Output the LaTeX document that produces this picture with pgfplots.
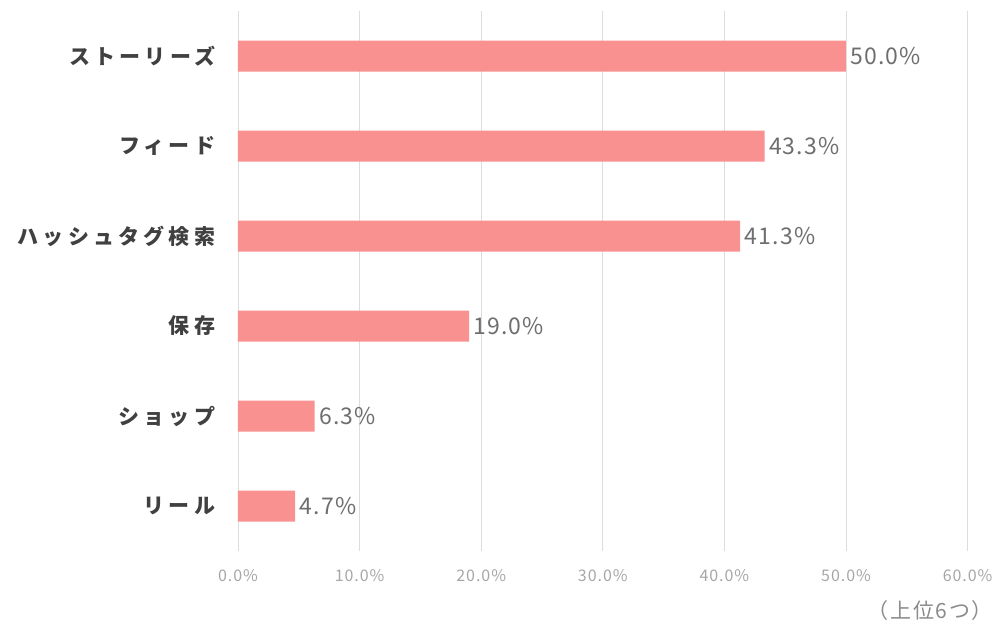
\documentclass[border=0pt]{standalone}
\usepackage{fontspec}
\setmainfont{Noto Sans CJK JP}
\usepackage{pgfplots}
\pgfplotsset{compat=1.18}

\definecolor{barpink}{HTML}{FA9191}
\definecolor{catgray}{HTML}{404040}
\definecolor{valgray}{HTML}{6E6E6E}
\definecolor{tickgray}{HTML}{A6A6A6}
\definecolor{gridgray}{HTML}{DDDDDD}

\begin{document}
\begin{tikzpicture}
\path[use as bounding box] (0,0) rectangle (994pt,626pt);
\begin{axis}[
  at={(238pt,75pt)}, anchor=south west,
  scale only axis,
  width=729.6pt, height=540pt,
  xbar, bar width=31pt,
  xmin=0, xmax=60,
  ymin=-0.5, ymax=5.5,
  y dir=reverse,
  xtick={0,10,...,60},
  ytick={0,1,2,3,4,5},
  yticklabels={ストーリーズ,フィード,ハッシュタグ検索,保存,ショップ,リール},
  yticklabel style={font=\fontsize{21}{24}\selectfont\bfseries\addfontfeature{LetterSpace=20}, text=catgray, xshift=-15pt},
  xticklabel={\pgfmathprintnumber[fixed,fixed zerofill,precision=1]{\tick}\%},
  xticklabel style={font=\fontsize{16}{18}\selectfont\addfontfeature{LetterSpace=6}, text=tickgray, yshift=-15pt},
  /pgf/number format/assume math mode=true,
  axis line style={draw=none},
  major tick style={draw=none},
  xmajorgrids,
  major grid style={draw=gridgray, line width=0.8pt},
  nodes near coords={\pgfmathprintnumber[fixed,fixed zerofill,precision=1]{\pgfplotspointmeta}\%},
  nodes near coords style={font=\fontsize{23}{26}\selectfont\addfontfeature{LetterSpace=5}, text=valgray, anchor=west, xshift=1pt},
]
\addplot[fill=barpink, draw=none] coordinates {
  (50.0,0) (43.3,1) (41.3,2) (19.0,3) (6.3,4) (4.7,5)
};
\end{axis}
\node[anchor=east, inner sep=0pt, font=\fontsize{21}{24}\selectfont\addfontfeature{LetterSpace=8}, text=valgray!80] at (993pt,15pt) {（上位6つ）};
\end{tikzpicture}
\end{document}
